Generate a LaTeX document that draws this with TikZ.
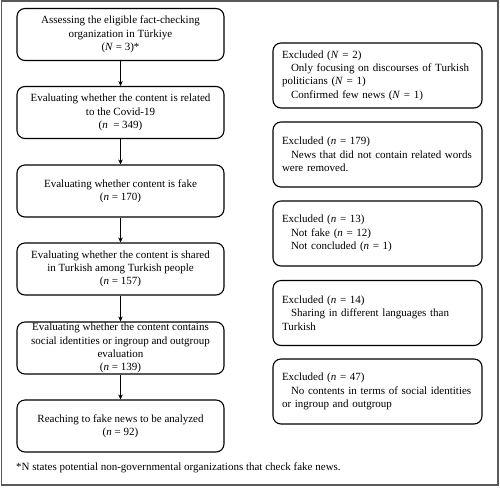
\documentclass[tikz,border=0pt]{standalone}
\usepackage{fontspec}
\setmainfont{Liberation Serif}
\usetikzlibrary{arrows.meta}
\begin{document}
\begin{tikzpicture}[x=1pt,y=-1pt,
  every node/.style={font=\fontsize{11}{13.3}\selectfont},
  stepbox/.style={draw, line width=1.1pt, rounded corners=8pt, align=center,
    minimum width=207pt, minimum height=52pt, inner sep=0pt},
  exclbox/.style={draw, line width=1.1pt, rounded corners=8pt, align=left,
    minimum width=209pt, minimum height=65pt, text width=191pt, inner sep=0pt},
  flow/.style={-{Stealth[length=5pt,width=4.5pt]}, line width=0.6pt}]
\useasboundingbox (0,0) rectangle (500,488);
\draw[line width=1.5pt, color=black!65] (1.5,0.8) rectangle (498,485);
\node[stepbox] (s1) at (120.5,34.5) {Assessing the eligible fact-checking\\organization in Türkiye\\(\textit{N} = 3)*};
\node[stepbox] (s2) at (120.5,112.5) {Evaluating whether the content is related\\to the Covid-19\\(\textit{n} \ = 349)};
\node[stepbox] (s3) at (120.5,191) {Evaluating whether content is fake\\(\textit{n} = 170)};
\node[stepbox] (s4) at (120.5,269) {Evaluating whether the content is shared\\in Turkish among Turkish people\\(\textit{n} = 157)};
\node[stepbox] (s5) at (120.5,348) {Evaluating whether the content contains\\social identities or ingroup and outgroup\\evaluation\\(\textit{n} = 139)};
\node[stepbox] (s6) at (120.5,426) {Reaching to fake news to be analyzed\\(\textit{n} = 92)};
\draw[flow] (s1) -- (s2);
\draw[flow] (s2) -- (s3);
\draw[flow] (s3) -- (s4);
\draw[flow] (s4) -- (s5);
\draw[flow] (s5) -- (s6);
\node[exclbox] (e1) at (377.5,75.5) {Excluded (\textit{N} = 2)\\\hspace*{9pt}Only focusing on discourses of Turkish\\politicians (\textit{N} = 1)\\\hspace*{9pt}Confirmed few news (\textit{N} = 1)};
\node[exclbox] (e2) at (377.5,154.5) {Excluded (\textit{n} = 179)\\\hspace*{9pt}News that did not contain related words\\were removed.};
\node[exclbox] (e3) at (377.5,233.5) {Excluded (\textit{n} = 13)\\\hspace*{9pt}Not fake (\textit{n} = 12)\\\hspace*{9pt}Not concluded (\textit{n} = 1)};
\node[exclbox] (e4) at (377.5,313) {Excluded (\textit{n} = 14)\\\hspace*{9pt}Sharing in different languages than\\Turkish};
\node[exclbox] (e5) at (377.5,391.5) {Excluded (\textit{n} = 47)\\\hspace*{9pt}No contents in terms of social identities\\or ingroup and outgroup};
\node[anchor=base west, inner sep=0pt] (fn) at (16,470) {*N states potential non-governmental organizations that check fake news.};
\end{tikzpicture}
\end{document}
